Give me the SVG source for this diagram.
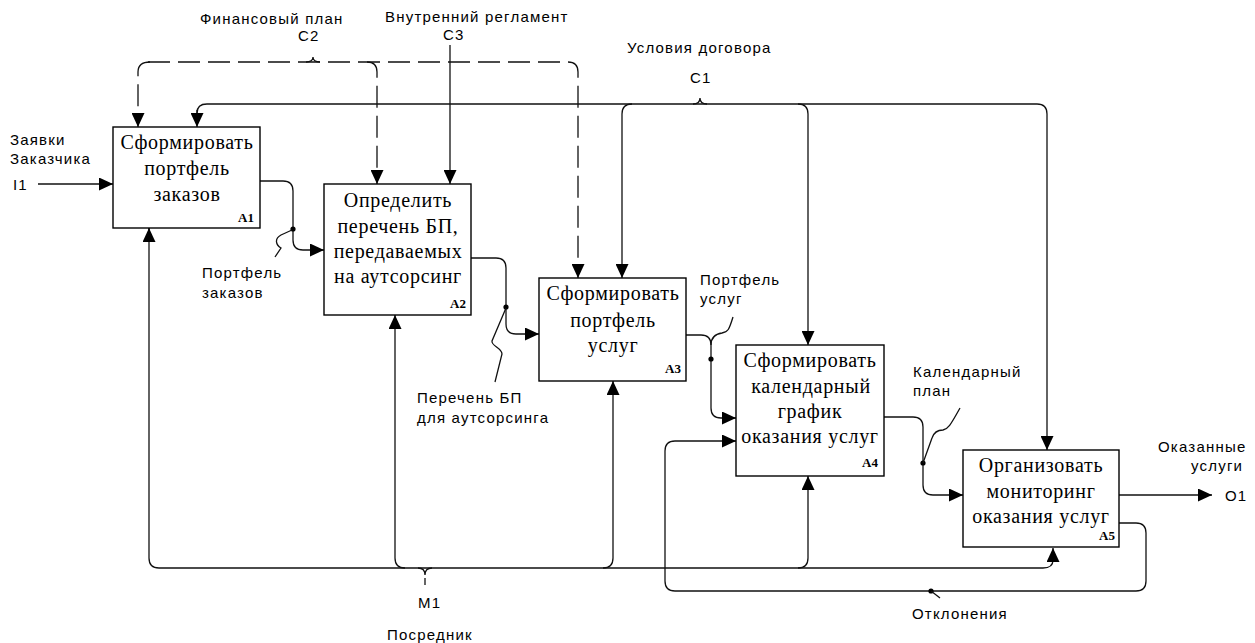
<svg xmlns="http://www.w3.org/2000/svg" width="1255" height="643" viewBox="0 0 1255 643">
<style>
.box{fill:#fff;stroke:#000;stroke-width:1.4}
.bt{font-family:"Liberation Serif","Times New Roman",serif;font-size:20px;letter-spacing:0.7px;fill:#000;text-anchor:middle}
.num{font-family:"Liberation Serif","Times New Roman",serif;font-size:13px;font-weight:bold;fill:#000;text-anchor:end}
.ln{fill:none;stroke:#111;stroke-width:1.3}
.dash{stroke-dasharray:22,8}
.arr{marker-end:url(#ah)}
.lb{font-family:"Liberation Sans",Arial,sans-serif;font-size:15px;letter-spacing:1.2px;fill:#000}
.dot{fill:#000}
</style>
<defs>
<marker id="ah" viewBox="0 0 14 13" refX="14" refY="6.5" markerWidth="14" markerHeight="13" markerUnits="userSpaceOnUse" orient="auto">
<path d="M0,0 L14,6.5 L0,13 z" fill="#000"/>
</marker>
</defs>
<rect width="1255" height="643" fill="#fff"/>

<g id="connectors">
<!-- I1 -->
<path class="ln arr" d="M38,184 L113,184"/>
<!-- C2 dashed -->
<path class="ln dash arr" d="M150,62 Q138,62 138,72 L138,127"/>
<path class="ln dash arr" d="M148,62 L568,62 Q578,62 578,72 L578,278"/>
<path class="ln dash arr" d="M367,62 Q377,62 377,72 L377,184"/>
<path class="ln" d="M306,62 Q313,62 313,57 Q313,62 320,62"/>
<!-- C3 -->
<path class="ln arr" d="M450,45 L450,184"/>
<!-- C1 -->
<path class="ln arr" d="M197,113 Q197,104 207,104 L1037,104 Q1047,104 1047,114 L1047,450"/>
<path class="ln arr" d="M197,110 L197,127"/>
<path class="ln arr" d="M632,104 Q622,104 622,114 L622,278"/>
<path class="ln arr" d="M798,104 Q808,104 808,114 L808,345"/>
<path class="ln" d="M693,104 Q700,104 700,98 Q700,104 707,104"/>
<!-- M1 -->
<path class="ln arr" d="M149,228 L149,558 Q149,568 159,568 L1043,568 Q1053,568 1053,560 L1053,548"/>
<path class="ln arr" d="M149,240 L149,228"/>
<path class="ln arr" d="M405,568 Q395,568 395,558 L395,315"/>
<path class="ln arr" d="M603,568 Q613,568 613,558 L613,381"/>
<path class="ln arr" d="M798,568 Q808,568 808,558 L808,476"/>
<path class="ln" d="M418,568 Q425,568 425,575 Q425,568 432,568"/>
<path class="ln" d="M425,578 L425,585"/>
<!-- A1 -> A2 -->
<path class="ln arr" d="M260,181 L283,181 Q293,181 293,191 L293,240 Q293,250 303,250 L324,250"/>
<circle class="dot" cx="293" cy="229" r="2.6"/>
<path class="ln" d="M292,230 L281,235 C274,239 276,245 281,248 L275,257"/>
<!-- A2 -> A3 -->
<path class="ln arr" d="M471,258 L496,258 Q506,258 506,268 L506,324 Q506,334 516,334 L539,334"/>
<circle class="dot" cx="506" cy="307" r="2.6"/>
<path class="ln" d="M506,308 L492,341 C491,346 502,348 502,354 L495,382"/>
<!-- A3 -> A4 -->
<path class="ln arr" d="M686,335 L701,335 Q711,335 711,345 L711,408 Q711,418 721,418 L736,418"/>
<circle class="dot" cx="711" cy="359" r="2.6"/>
<path class="ln" d="M711,345 C711,337 715,334 722,333 C728,332 729,330 733,317"/>
<!-- A4 -> A5 -->
<path class="ln arr" d="M884,417 L913,417 Q923,417 923,427 L923,485 Q923,495 933,495 L963,495"/>
<circle class="dot" cx="923" cy="463" r="2.6"/>
<path class="ln" d="M923,463 L932,438 C934,432 938,430 943,430 C948,429 950,426 960,408"/>
<!-- O1 -->
<path class="ln arr" d="M1119,495 L1212,495"/>
<!-- feedback -->
<path class="ln arr" d="M1119,523 L1136,523 Q1146,523 1146,533 L1146,581 Q1146,591 1136,591 L675,591 Q665,591 665,581 L665,451 Q665,441 675,441 L736,441"/>
<circle class="dot" cx="931" cy="591" r="2.6"/>
<path class="ln" d="M931,591 L940,598"/>

<!-- labels -->
<text class="lb" x="200" y="24">Финансовый план</text>
<text class="lb" x="298" y="41">C2</text>
<text class="lb" x="385" y="22">Внутренний регламент</text>
<text class="lb" x="443" y="40">C3</text>
<text class="lb" x="627" y="53">Условия договора</text>
<text class="lb" x="690" y="83">C1</text>
<text class="lb" x="10" y="145">Заявки</text>
<text class="lb" x="10" y="164">Заказчика</text>
<text class="lb" x="13" y="190">I1</text>
<text class="lb" x="202" y="278">Портфель</text>
<text class="lb" x="202" y="298">заказов</text>
<text class="lb" x="417" y="403">Перечень БП</text>
<text class="lb" x="417" y="423">для аутсорсинга</text>
<text class="lb" x="700" y="285">Портфель</text>
<text class="lb" x="700" y="304">услуг</text>
<text class="lb" x="913" y="377">Календарный</text>
<text class="lb" x="913" y="396">план</text>
<text class="lb" x="1158" y="452">Оказанные</text>
<text class="lb" x="1191" y="471">услуги</text>
<text class="lb" x="1225" y="501">O1</text>
<text class="lb" x="912" y="619">Отклонения</text>
<text class="lb" x="418" y="608">M1</text>
<text class="lb" x="387" y="640">Посредник</text>
</g>

<g id="A1">
<rect class="box" x="113" y="127" width="147" height="101"/>
<text class="bt" x="187" y="149">Сформировать</text>
<text class="bt" x="187" y="175">портфель</text>
<text class="bt" x="187" y="201">заказов</text>
<text class="num" x="254" y="222">A1</text>
</g>
<g id="A2">
<rect class="box" x="324" y="184" width="147" height="131"/>
<text class="bt" x="398" y="207">Определить</text>
<text class="bt" x="398" y="233">перечень БП,</text>
<text class="bt" x="398" y="258">передаваемых</text>
<text class="bt" x="398" y="283">на аутсорсинг</text>
<text class="num" x="466" y="308">A2</text>
</g>
<g id="A3">
<rect class="box" x="539" y="278" width="147" height="103"/>
<text class="bt" x="613" y="300">Сформировать</text>
<text class="bt" x="613" y="327">портфель</text>
<text class="bt" x="613" y="352">услуг</text>
<text class="num" x="681" y="373">A3</text>
</g>
<g id="A4">
<rect class="box" x="736" y="345" width="148" height="131"/>
<text class="bt" x="810" y="367">Сформировать</text>
<text class="bt" x="811" y="393">календарный</text>
<text class="bt" x="810" y="418">график</text>
<text class="bt" x="810" y="443">оказания услуг</text>
<text class="num" x="878" y="467">A4</text>
</g>
<g id="A5">
<rect class="box" x="963" y="450" width="156" height="97"/>
<text class="bt" x="1041" y="472">Организовать</text>
<text class="bt" x="1041" y="498">мониторинг</text>
<text class="bt" x="1041" y="523">оказания услуг</text>
<text class="num" x="1115" y="540">A5</text>
</g>
</svg>
